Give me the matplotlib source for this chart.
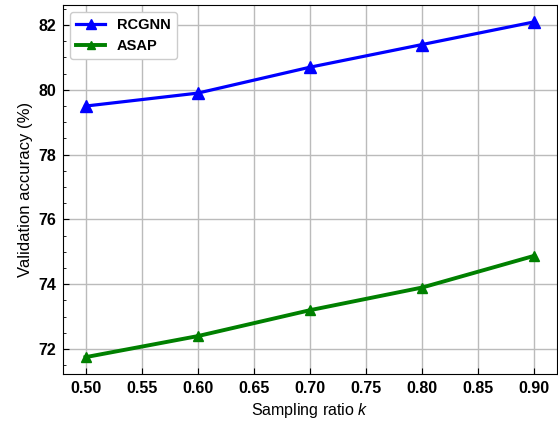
import numpy as np
import matplotlib
matplotlib.use("Agg")
import matplotlib.pyplot as plt
from matplotlib.ticker import MultipleLocator

# données
ratios = [0.5, 0.6, 0.7, 0.8, 0.9]
acc_rcgnn = [79.5, 79.9, 80.7, 81.4, 82.1]
acc_asap = [71.75, 72.4, 73.2, 73.9, 74.88]

plt.rcParams["font.family"] = ["Liberation Sans", "DejaVu Sans"]
plt.rcParams["mathtext.fontset"] = "custom"
plt.rcParams["mathtext.it"] = "Liberation Sans:italic"

fig = plt.figure(figsize=(5.58, 4.23), dpi=100)
ax = fig.add_axes([0.113, 0.116, 0.885, 0.872])

ax.plot(ratios, acc_rcgnn, color="blue", marker="^", markersize=8.5,
        linewidth=2.3, label="RCGNN")
ax.plot(ratios, acc_asap, color="green", marker="^", markersize=7,
        linewidth=2.8, label="ASAP")

ax.set_xticks(np.arange(0.5, 0.91, 0.05))
ax.xaxis.set_major_formatter(matplotlib.ticker.FormatStrFormatter("%.2f"))
ax.yaxis.set_major_locator(MultipleLocator(2))
ax.yaxis.set_minor_locator(MultipleLocator(0.5))
ax.tick_params(which="both", direction="in")
ax.tick_params(which="major", length=4, pad=5)
ax.tick_params(which="minor", length=2.5)

for lab in ax.get_xticklabels() + ax.get_yticklabels():
    lab.set_fontweight("bold")
    lab.set_fontsize(11.5)

ax.grid(True, color="#bbbbbb", linewidth=1)
ax.set_axisbelow(True)

ax.set_xlabel("Sampling ratio $k$", fontsize=11.5)
ax.set_ylabel("Validation accuracy (%)", fontsize=12)

leg = ax.legend(loc="upper left", prop={"weight": "bold", "size": 10.5},
                fancybox=True, edgecolor="#cccccc", framealpha=1,
                markerscale=0.9)

fig.savefig("out.png", dpi=100)
